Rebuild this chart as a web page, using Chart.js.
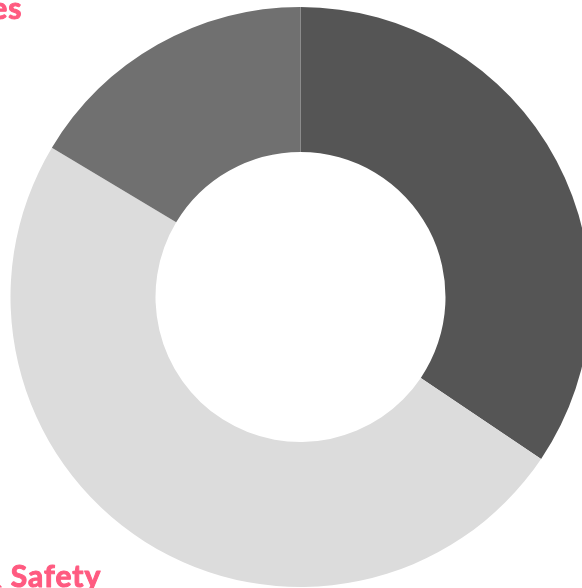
<!DOCTYPE html>
<html>
<head>
<meta charset="utf-8">
<script src="https://cdn.jsdelivr.net/npm/chart.js@4/dist/chart.umd.min.js"></script>
<style>
    html, body { margin: 0; padding: 0; background: #fff; overflow: hidden; }
    #wrap { position: absolute; left: 0; top: 0; width: 601px; height: 594px; }
</style>
</head>
<body>
<div id="wrap"><canvas id="chartDoughnut"></canvas></div>
<script>
const labels = ['Environment', 'Health & Safety', 'Employees'];
const values = [21, 30, 10];
const colors = ['#555555', '#dcdcdc', '#707070'];

// where each slice's caption ends (right edge, baseline), in radius units from the centre
// the first one sits outside the visible page, to the right
const captionSpots = [[1.9, -0.9], [-0.687, 1.0], [-0.959, -0.958]];

const captionPlugin = {
    id: 'captions',
    afterDraw: function (chart) {
        var ctx = chart.ctx;
        var arcs = chart.getDatasetMeta(0).data;
        ctx.save();
        ctx.font = 'bold 30px Lato';
        ctx.letterSpacing = '1px';
        ctx.fillStyle = '#ff5a80';
        ctx.strokeStyle = '#ff5a80';
        ctx.lineWidth = 1;
        ctx.lineJoin = 'round';
        ctx.textAlign = 'right';
        ctx.textBaseline = 'alphabetic';
        arcs.forEach(function (arc, i) {
            var r = arc.outerRadius;
            var x = arc.x + captionSpots[i][0] * r;
            var y = arc.y + captionSpots[i][1] * r;
            ctx.fillText(labels[i], x, y);
            ctx.strokeText(labels[i], x, y); // heavier look, like a black weight
        });
        ctx.restore();
    }
};

var ctx = document.getElementById("chartDoughnut").getContext("2d");

var myChart = new Chart(ctx, {
    type: 'doughnut',
    data: {
        labels: labels,
        datasets: [{
            data: values,
            backgroundColor: colors,
            borderWidth: 0,
            hoverOffset: 0
        }]
    },
    options: {
        responsive: true,
        maintainAspectRatio: false,
        animation: false,
        cutout: '50%',
        layout: { padding: 7 },
        plugins: {
            legend: { display: false },
            tooltip: { enabled: false }
        }
    },
    plugins: [captionPlugin]
});
</script>
</body>
</html>
